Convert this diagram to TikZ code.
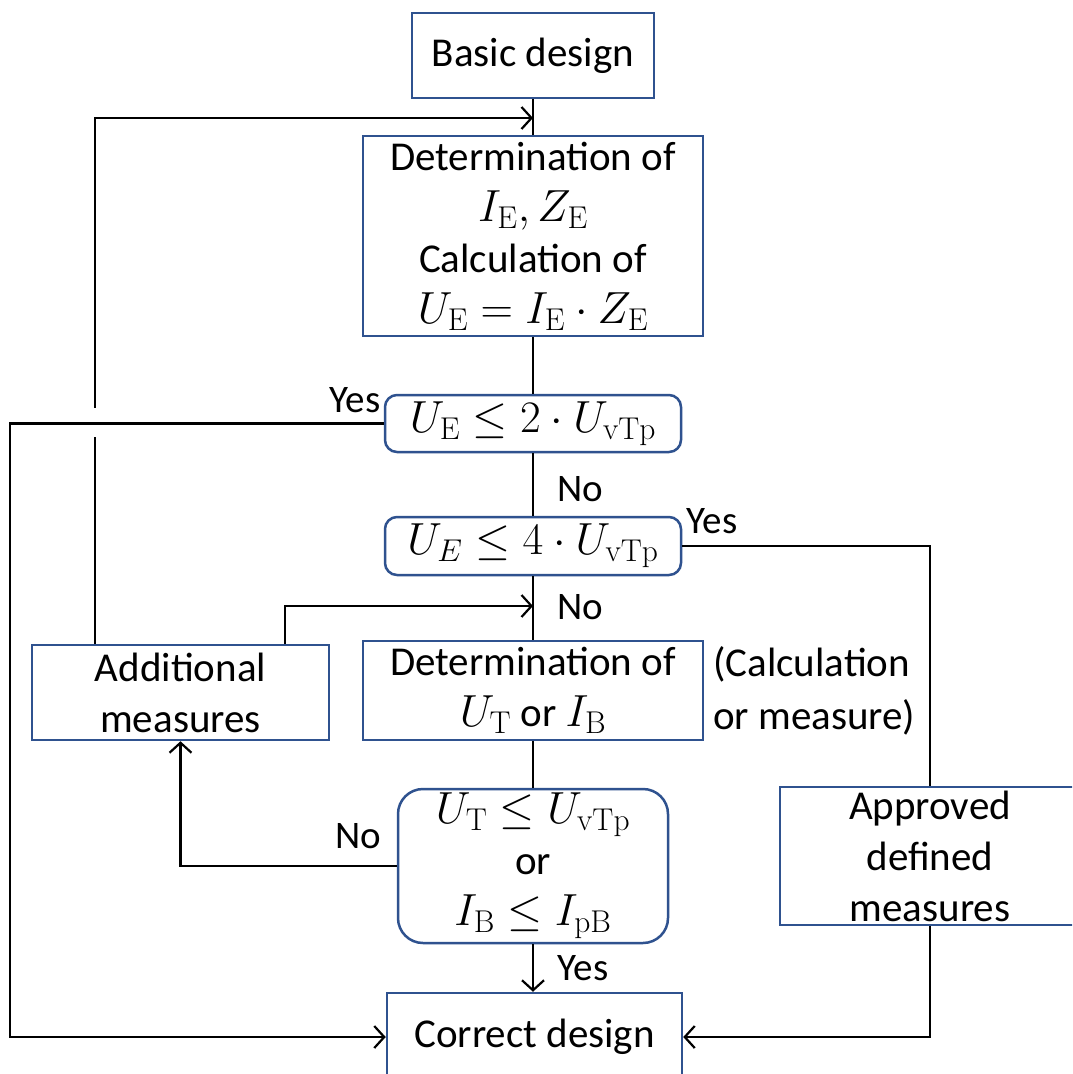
\RequirePackage{fix-cm}
\documentclass[tikz,border=0pt]{standalone}
\usepackage[no-math]{fontspec}
\setmainfont{Carlito}
\usetikzlibrary{arrows.meta}
\definecolor{boxblue}{RGB}{47,82,143}
\newcommand\mainfnt{\fontsize{41}{51}\selectfont}
\newcommand\lblfnt{\fontsize{39}{47}\selectfont}
\newcommand\mth[1]{{\fontsize{45}{51}\selectfont$#1$}}
\tikzset{
  box/.style={draw=boxblue, line width=2.5pt, inner sep=0pt, align=center, font=\mainfnt},
  rbox/.style={box, rounded corners=12pt},
  lbl/.style={font=\lblfnt, inner sep=0pt},
  conn/.style={line width=2.2pt, draw=black},
  arr/.style={conn, -{Straight Barb[length=10pt,width=22pt,line width=2.2pt]}},
}
\begin{document}
\begin{tikzpicture}[x=1pt,y=-1pt]
\useasboundingbox (0,0) rectangle (1072,1074);
\clip (0,0) rectangle (1072,1074);
\fill[white] (0,0) rectangle (1072,1074);
% nodes
\node[box, minimum width=242pt, minimum height=85pt] (basic) at (533,55.5) {Basic design};
\node[box, minimum width=340pt, minimum height=200pt] (calc) at (533,236) {Determination of\\ \mth{I_{\mathrm{E}}, Z_{\mathrm{E}}}\\ Calculation of\\ \mth{U_{\mathrm{E}} = I_{\mathrm{E}}\cdot Z_{\mathrm{E}}}};
\node[rbox, minimum width=296pt, minimum height=57pt] (d1) at (533,423.5) {\mth{U_{\mathrm{E}} \leq 2\cdot U_{\mathrm{vTp}}}};
\node[rbox, minimum width=296pt, minimum height=58pt] (d2) at (533,546) {\mth{U_E \leq 4\cdot U_{\mathrm{vTp}}}};
\node[box, minimum width=297pt, minimum height=95pt] (addm) at (180.5,692.5) {Additional\\ measures};
\node[box, minimum width=340pt, minimum height=99pt] (det) at (533,690.5) {Determination of\\ \mth{U_{\mathrm{T}}} or \mth{I_{\mathrm{B}}}};
\node[box, rounded corners=25pt, minimum width=270pt, minimum height=154pt] (d3) at (533,866) {\mth{U_{\mathrm{T}} \leq U_{\mathrm{vTp}}}\\ or\\ \mth{I_{\mathrm{B}} \leq I_{\mathrm{pB}}}};
\node[box, minimum width=300pt, minimum height=138pt] (appr) at (930,856) {Approved\\ defined\\ measures};
\node[box, minimum width=295pt, minimum height=88pt] (corr) at (534.5,1037) {Correct design};
\node[font=\fontsize{41}{53}\selectfont, inner sep=0pt, align=left, anchor=west] (note) at (713,691) {(Calculation\\ or measure)};
% labels
\node[lbl] (y1) at (355,400) {Yes};
\node[lbl] (n1) at (580,489) {No};
\node[lbl] (y2) at (712,521) {Yes};
\node[lbl] (n2) at (580,607) {No};
\node[lbl] (n3) at (358,836) {No};
\node[lbl] (y3) at (583,968) {Yes};
% helper coordinates
\coordinate (top) at (533,118);
\coordinate (mid) at (533,606);
\coordinate (lx) at (95,0);
\coordinate (lx2) at (285,0);
\coordinate (ly) at (10,0);
% connectors
\draw[conn] (basic.south) -- (calc.north);
\draw[conn] (calc.south) -- (d1.north);
\draw[conn] (d1.south) -- (d2.north);
\draw[conn] (d2.south) -- (det.north);
\draw[conn] (det.south) -- (d3.north);
\draw[arr] (d3.south) -- (d3.south |- corr.north);
\draw[arr] (addm.north -| lx) -- (lx |- top) -- (top);
\fill[white] (88,408) rectangle (102,437);
\draw[arr] (d1.west) -- (d1.west -| ly) -- (ly |- corr.west) -- (corr.west);
\draw[conn] (d2.east) -- (d2.east -| appr.north) -- (appr.north);
\draw[arr] (appr.south) -- (appr.south |- corr.east) -- (corr.east);
\draw[arr] (addm.north -| lx2) -- (lx2 |- mid) -- (mid);
\draw[arr] (d3.west) -- (d3.west -| addm.south) -- (addm.south);
\end{tikzpicture}
\end{document}
